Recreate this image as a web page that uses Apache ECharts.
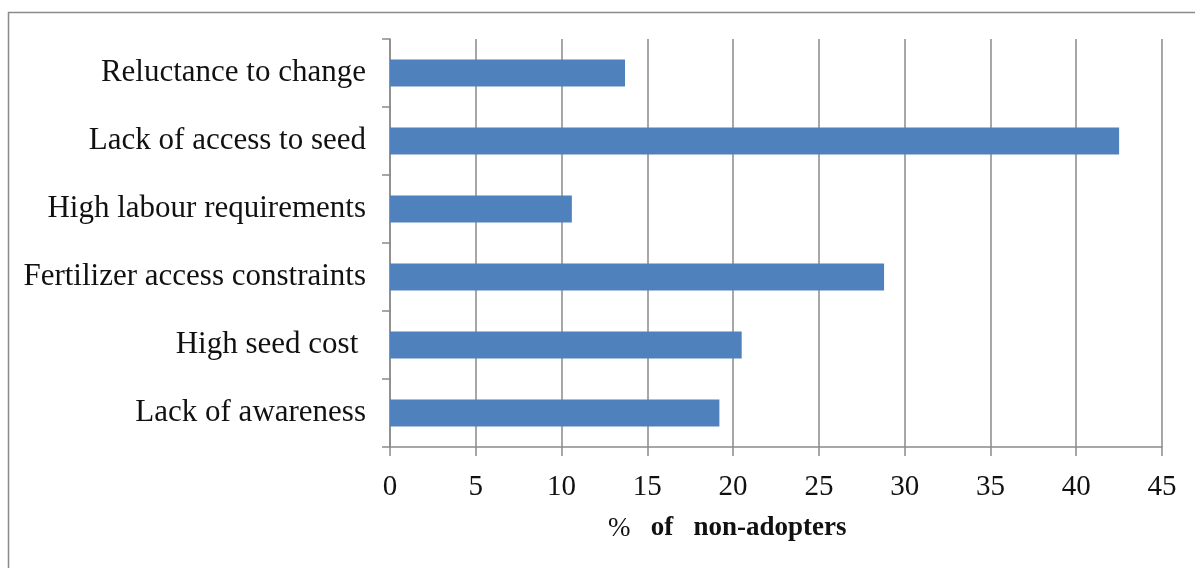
<!DOCTYPE html>
<html>
<head>
<meta charset="utf-8">
<script src="https://cdn.jsdelivr.net/npm/echarts@6/dist/echarts.min.js"></script>
<style>html,body{margin:0;padding:0;background:#fff;}#c{width:1195px;height:568px;}</style>
</head>
<body>
<div id="c"></div>
<script>
const categories = ["Reluctance to change", "Lack of access to seed", "High labour requirements", "Fertilizer access constraints", "High seed cost ", "Lack of awareness"];
const values = [13.7, 42.5, 10.6, 28.8, 20.5, 19.2];
const xMin = 0, xMax = 45, xStep = 5;

const chart = echarts.init(document.getElementById('c'), null, {renderer: 'canvas'});
const gray = '#8a8a8a';
const font = '"Liberation Serif", "DejaVu Serif", serif';
chart.setOption({
  animation: false,
  backgroundColor: '#fff',
  grid: {left: 390, right: 33, top: 39, bottom: 121, containLabel: false},
  xAxis: {
    type: 'value', min: xMin, max: xMax, interval: xStep,
    axisLine: {show: true, lineStyle: {color: gray, width: 1.5}},
    axisTick: {show: true, length: 9, lineStyle: {color: gray, width: 1.5}},
    splitLine: {show: true, lineStyle: {color: gray, width: 1.5}},
    axisLabel: {color: '#111', fontFamily: font, fontSize: 29, margin: 26}
  },
  yAxis: {
    type: 'category', data: categories, inverse: true,
    axisLine: {show: true, lineStyle: {color: gray, width: 1.5}},
    axisTick: {show: true, length: 8, lineStyle: {color: gray, width: 1.5}},
    axisLabel: {color: '#111', fontFamily: font, fontSize: 31, margin: 24}
  },
  series: [{
    type: 'bar', data: values, barWidth: 27,
    itemStyle: {color: '#4F81BD'}
  }],
  graphic: [
    {type: 'rect', silent: true, z: 100,
     shape: {x: 8.5, y: 12.5, width: 1300, height: 700},
     style: {fill: 'none', stroke: gray, lineWidth: 1.5}},
    {type: 'text', left: 608, top: 515, z: 100,
     style: {
       text: '{r|%}{b|   of   non-adopters}',
       rich: {
         r: {fontFamily: font, fontSize: 27, fill: '#111'},
         b: {fontFamily: font, fontSize: 27, fontWeight: 'bold', fill: '#111'}
       }
     }}
  ]
});
</script>
</body>
</html>
